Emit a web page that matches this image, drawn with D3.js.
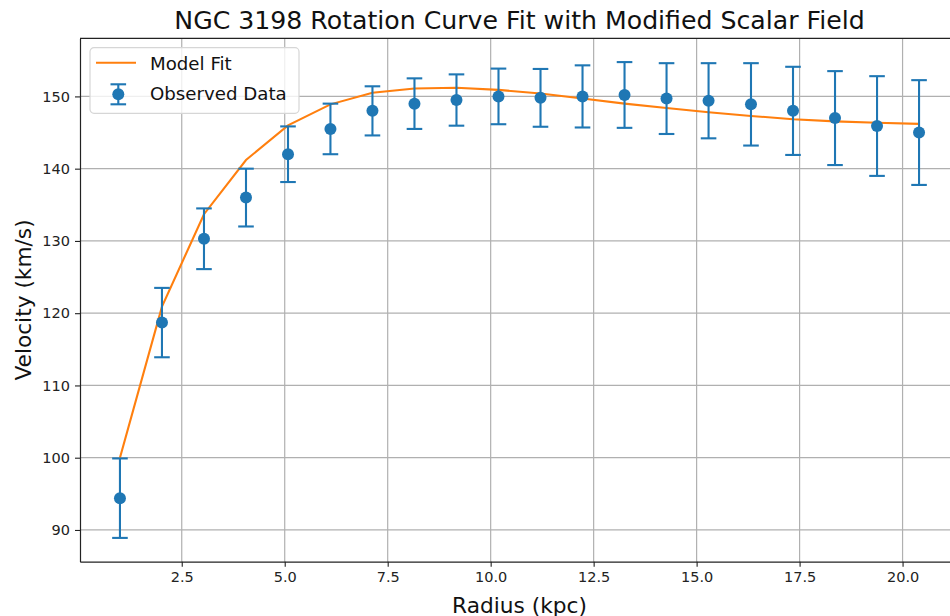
<!DOCTYPE html>
<html>
<head>
<meta charset="utf-8">
<title>NGC 3198 Rotation Curve</title>
<style>
  body { margin: 0; background: #fff; }
  svg { display: block; font-family: "DejaVu Sans", sans-serif; }
  .tick text { fill: #222; }
</style>
<script src="https://cdn.jsdelivr.net/npm/d3@7"></script>
</head>
<body>
<script>
// radius of each measurement (kpc)
var radius = [1.0, 2.02, 3.04, 4.06, 5.08, 6.11, 7.13, 8.15, 9.17, 10.19,
              11.21, 12.23, 13.25, 14.27, 15.29, 16.32, 17.34, 18.36, 19.38, 20.4];
// observed velocities and their errors (km/s)
var observed = [94.4, 118.7, 130.3, 136.0, 142.0, 145.5, 148.0, 149.0, 149.5, 150.0,
                149.8, 150.0, 150.2, 149.7, 149.4, 148.9, 148.0, 147.0, 145.9, 145.0];
var errors = [5.5, 4.8, 4.2, 4.0, 3.85, 3.5, 3.4, 3.5, 3.55, 3.85,
              4.0, 4.3, 4.55, 4.9, 5.2, 5.7, 6.1, 6.5, 6.9, 7.25];
// model fit velocities (km/s)
var model = [100.0, 120.9, 133.7, 141.2, 146.0, 148.9, 150.5, 151.1, 151.2, 150.9,
             150.4, 149.7, 149.0, 148.4, 147.8, 147.3, 146.85, 146.55, 146.35, 146.2];
var xTicks = [2.5, 5.0, 7.5, 10.0, 12.5, 15.0, 17.5, 20.0];
var yTicks = [90, 100, 110, 120, 130, 140, 150];

var W = 950, H = 616;
var margin = {top: 38.3, left: 80, bottom: 54.3};
var width = 879, height = H - margin.top - margin.bottom;

var blue = "#1f77b4", orange = "#ff7f0e";

var svg = d3.select("body").append("svg")
  .attr("width", W).attr("height", H);

// matplotlib style 5% padding around the data
var xext = d3.extent(radius);
var xpad = (xext[1] - xext[0]) * 0.05;
var lo = d3.min(observed, function(d, i) { return d - errors[i]; });
var hi = d3.max(observed, function(d, i) { return d + errors[i]; });
var ypad = (hi - lo) * 0.05;

var x = d3.scaleLinear().domain([xext[0] - xpad, xext[1] + xpad]).range([0, width]);
var y = d3.scaleLinear().domain([lo - ypad, hi + ypad]).range([height, 0]);

var g = svg.append("g")
  .attr("transform", "translate(" + margin.left + "," + margin.top + ")");

// grid
g.append("g").selectAll("line").data(xTicks).enter().append("line")
  .attr("x1", function(d) { return x(d); }).attr("x2", function(d) { return x(d); })
  .attr("y1", 0).attr("y2", height)
  .attr("stroke", "#b0b0b0").attr("stroke-width", 1.2);
g.append("g").selectAll("line").data(yTicks).enter().append("line")
  .attr("y1", function(d) { return y(d); }).attr("y2", function(d) { return y(d); })
  .attr("x1", 0).attr("x2", width)
  .attr("stroke", "#b0b0b0").attr("stroke-width", 1.2);

// axes
var xAxis = g.append("g")
  .attr("transform", "translate(0," + height + ")")
  .call(d3.axisBottom(x).tickValues(xTicks).tickFormat(d3.format(".1f")).tickSize(5).tickSizeOuter(0).tickPadding(5));
var yAxis = g.append("g")
  .call(d3.axisLeft(y).tickValues(yTicks).tickSize(5).tickSizeOuter(0).tickPadding(5));
[xAxis, yAxis].forEach(function(a) {
  a.selectAll("text").style("font-size", "14.5px").style("font-family", "DejaVu Sans");
  a.selectAll(".tick line").attr("stroke", "#222").attr("stroke-width", 1.1);
  a.select(".domain").attr("stroke", "#222").attr("stroke-width", 1.2);
});

// top/right spines
g.append("line").attr("x1", 0).attr("x2", width).attr("y1", 0).attr("y2", 0)
  .attr("stroke", "#222").attr("stroke-width", 1.2);
g.append("line").attr("x1", width).attr("x2", width).attr("y1", 0).attr("y2", height)
  .attr("stroke", "#222").attr("stroke-width", 1.2);

// model curve
var line = d3.line()
  .x(function(d, i) { return x(radius[i]); })
  .y(function(d) { return y(d); });
g.append("path").datum(model)
  .attr("d", line)
  .attr("fill", "none").attr("stroke", orange).attr("stroke-width", 2.1);

// observed points with error bars
var pts = g.append("g").selectAll("g").data(observed).enter().append("g")
  .attr("transform", function(d, i) { return "translate(" + x(radius[i]) + ",0)"; });
pts.append("line")
  .attr("y1", function(d, i) { return y(d - errors[i]); })
  .attr("y2", function(d, i) { return y(d + errors[i]); })
  .attr("stroke", blue).attr("stroke-width", 2.1);
pts.append("line")
  .attr("x1", -7.8).attr("x2", 7.8)
  .attr("y1", function(d, i) { return y(d + errors[i]); })
  .attr("y2", function(d, i) { return y(d + errors[i]); })
  .attr("stroke", blue).attr("stroke-width", 2.1);
pts.append("line")
  .attr("x1", -7.8).attr("x2", 7.8)
  .attr("y1", function(d, i) { return y(d - errors[i]); })
  .attr("y2", function(d, i) { return y(d - errors[i]); })
  .attr("stroke", blue).attr("stroke-width", 2.1);
pts.append("circle")
  .attr("cy", function(d) { return y(d); })
  .attr("r", 6).attr("fill", blue);

// title and labels
svg.append("text")
  .attr("x", margin.left + width / 2).attr("y", 28.8)
  .attr("text-anchor", "middle")
  .style("font-size", "25.2px").attr("fill", "#111")
  .text("NGC 3198 Rotation Curve Fit with Modified Scalar Field");
svg.append("text")
  .attr("x", margin.left + width / 2).attr("y", 612.5)
  .attr("text-anchor", "middle")
  .style("font-size", "21.7px").attr("fill", "#111")
  .text("Radius (kpc)");
svg.append("text")
  .attr("transform", "translate(31," + (margin.top + height / 2) + ") rotate(-90)")
  .attr("text-anchor", "middle")
  .style("font-size", "21.7px").attr("fill", "#111")
  .text("Velocity (km/s)");

// legend
var leg = svg.append("g").attr("transform", "translate(90,47.7)");
leg.append("rect")
  .attr("width", 209).attr("height", 65.6).attr("rx", 4)
  .attr("fill", "#fff").attr("fill-opacity", 0.8)
  .attr("stroke", "#d6d6d6").attr("stroke-width", 1.2);
leg.append("line").attr("x1", 6).attr("x2", 46).attr("y1", 15).attr("y2", 15)
  .attr("stroke", orange).attr("stroke-width", 2.1);
leg.append("text").attr("x", 60).attr("y", 22.5)
  .style("font-size", "18.2px").attr("fill", "#111").text("Model Fit");
var lm = leg.append("g").attr("transform", "translate(28.3,46.6)");
lm.append("line").attr("y1", -10).attr("y2", 10).attr("stroke", blue).attr("stroke-width", 2.1);
lm.append("line").attr("x1", -7.8).attr("x2", 7.8).attr("y1", -10).attr("y2", -10).attr("stroke", blue).attr("stroke-width", 2.1);
lm.append("line").attr("x1", -7.8).attr("x2", 7.8).attr("y1", 10).attr("y2", 10).attr("stroke", blue).attr("stroke-width", 2.1);
lm.append("circle").attr("r", 6).attr("fill", blue);
leg.append("text").attr("x", 60).attr("y", 52.8)
  .style("font-size", "18.2px").attr("fill", "#111").text("Observed Data");
</script>
</body>
</html>
